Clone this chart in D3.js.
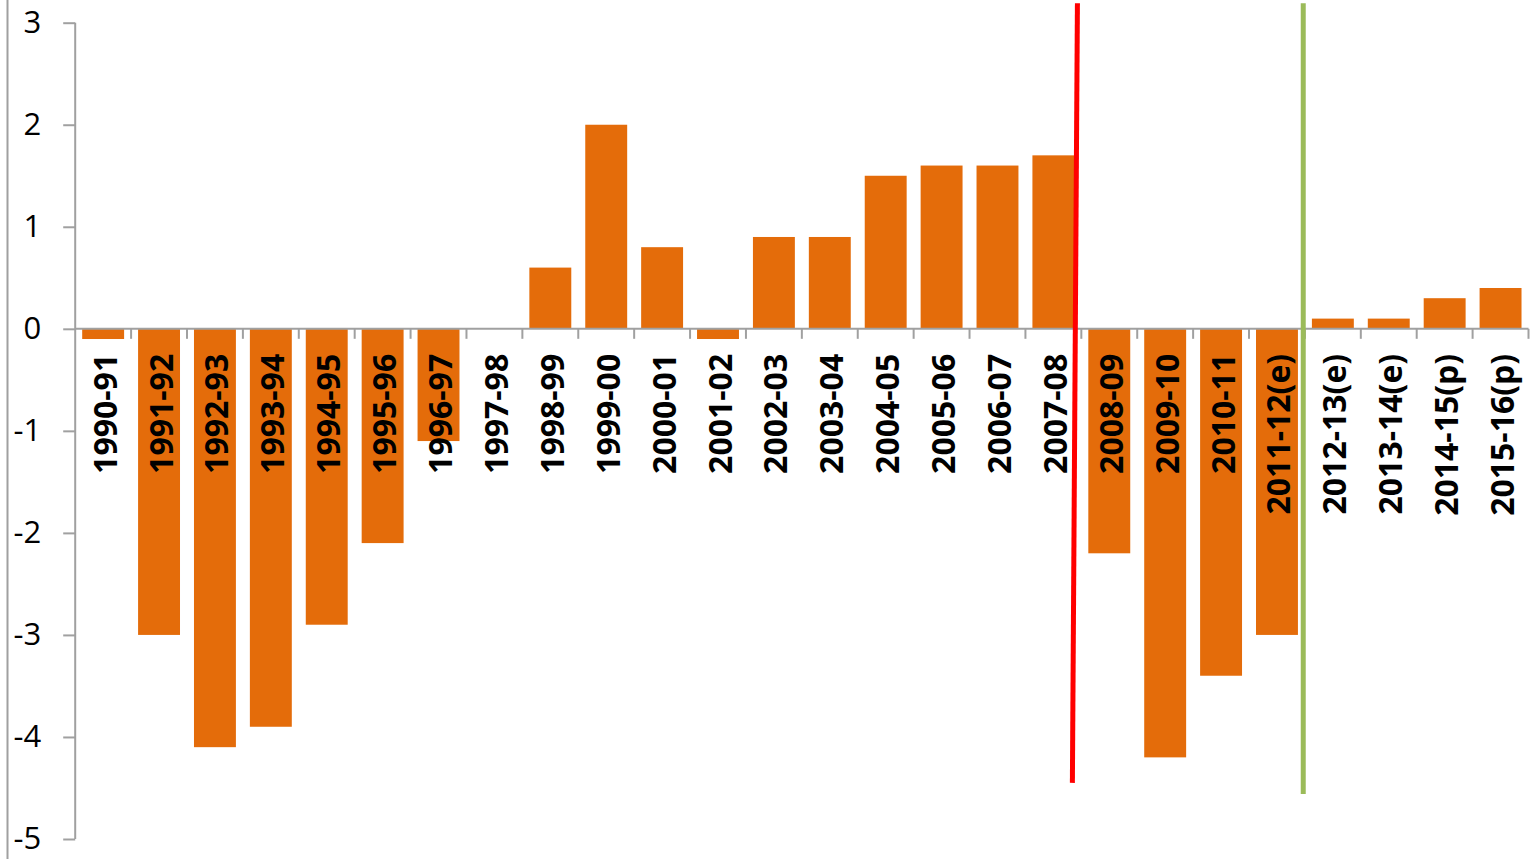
<!DOCTYPE html>
<html>
<head>
<meta charset="utf-8">
<script src="https://cdn.jsdelivr.net/npm/d3@7"></script>
<style>
  html, body { margin: 0; padding: 0; background: #fff; }
  svg { display: block; }
</style>
</head>
<body>
<svg id="chart" width="1535" height="859"></svg>
<script>
// Fiscal years (e = estimate, p = projection)
const years = [
  "1990-91", "1991-92", "1992-93", "1993-94", "1994-95", "1995-96", "1996-97",
  "1997-98", "1998-99", "1999-00", "2000-01", "2001-02", "2002-03", "2003-04",
  "2004-05", "2005-06", "2006-07", "2007-08", "2008-09", "2009-10", "2010-11",
  "2011-12(e)", "2012-13(e)", "2013-14(e)", "2014-15(p)", "2015-16(p)"
];

// Balance per year
const balance = [
  -0.1, -3.0, -4.1, -3.9, -2.9, -2.1, -1.1,
   0.0,  0.6,  2.0,  0.8, -0.1,  0.9,  0.9,
   1.5,  1.6,  1.6,  1.7, -2.2, -4.2, -3.4,
  -3.0,  0.1,  0.1,  0.3,  0.4
];

// Y axis ticks
const yTicks = [3, 2, 1, 0, -1, -2, -3, -4, -5];

// Marker lines, positioned by category index and value: [index, value] pairs
const crisisLine = [[17.93, 3.19], [17.84, -4.45]];
const forecastLine = [[21.97, 3.19], [21.97, -4.56]];

const svg = d3.select("#chart");

const x = d3.scaleBand()
  .domain(years)
  .range([75.2, 1528.5])
  .paddingInner(0.25)
  .paddingOuter(0.125);

const y = d3.scaleLinear()
  .domain([-5, 3])
  .range([839, 22.7]);

// position along the category axis by (fractional) index
const xi = d3.scaleLinear()
  .domain([0, years.length])
  .range(x.range());

const axisColor = "#a0a0a0";

// left frame edge
svg.append("line")
  .attr("x1", 7.5).attr("x2", 7.5)
  .attr("y1", 0).attr("y2", 859)
  .attr("stroke", axisColor).attr("stroke-width", 2);

// bars
svg.append("g")
  .selectAll("rect")
  .data(years.map((c, i) => ({ c, v: balance[i] })))
  .join("rect")
  .attr("x", d => x(d.c))
  .attr("width", x.bandwidth())
  .attr("y", d => y(Math.max(0, d.v)))
  .attr("height", d => Math.abs(y(d.v) - y(0)))
  .attr("fill", "#e46c0a");

// y axis
const yAxis = svg.append("g")
  .attr("transform", `translate(${x.range()[0]},0)`)
  .call(d3.axisLeft(y).tickValues(yTicks).tickSize(12).tickPadding(22)
    .tickFormat(d3.format("d")));
yAxis.select(".domain").attr("stroke", axisColor).attr("stroke-width", 2)
  .attr("d", `M0,${y(3)}V${y(-5)}`);
yAxis.selectAll(".tick line").attr("stroke", axisColor).attr("stroke-width", 2);
yAxis.selectAll(".tick text")
  .attr("font-family", "'Open Sans', sans-serif")
  .attr("font-size", 31)
  .attr("fill", "#000")
  .text(d => d < 0 ? "-" + Math.abs(d) : d);

// x axis line at zero with boundary ticks
const xAxis = svg.append("g");
xAxis.append("line")
  .attr("x1", x.range()[0]).attr("x2", x.range()[1])
  .attr("y1", y(0)).attr("y2", y(0))
  .attr("stroke", axisColor).attr("stroke-width", 2);
xAxis.selectAll("line.tick")
  .data(d3.range(1, years.length + 1))
  .join("line")
  .attr("class", "tick")
  .attr("x1", i => xi(i)).attr("x2", i => xi(i))
  .attr("y1", y(0)).attr("y2", y(0) + 10)
  .attr("stroke", axisColor).attr("stroke-width", 2);

// category labels, rotated, hanging below the zero line
svg.append("g")
  .selectAll("text")
  .data(years)
  .join("text")
  .attr("transform", d => `translate(${x(d) + x.bandwidth() / 2 + 1},${y(0) + 25}) rotate(-90)`)
  .attr("text-anchor", "end")
  .attr("dominant-baseline", "central")
  .attr("font-family", "'Open Sans', sans-serif")
  .attr("font-weight", "bold")
  .attr("font-size", 32)
  .attr("fill", "#000")
  .text(d => d);

// marker lines
const line = d3.line().x(p => xi(p[0])).y(p => y(p[1]));
svg.append("path")
  .attr("d", line(crisisLine))
  .attr("stroke", "#ff0000").attr("stroke-width", 5).attr("fill", "none");
svg.append("path")
  .attr("d", line(forecastLine))
  .attr("stroke", "#9bbb59").attr("stroke-width", 5).attr("fill", "none");
</script>
</body>
</html>
